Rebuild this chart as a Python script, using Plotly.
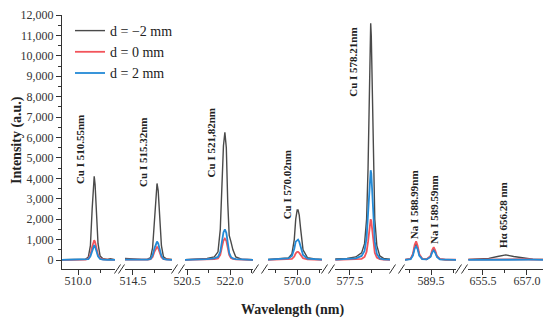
import plotly.graph_objects as go

# ---------------- data ----------------
series_names = ["d = \u22122 mm", "d = 0 mm", "d = 2 mm"]

# Panel 1 : Cu I 510.55 nm
wl_510 = [509.45, 509.8, 510.1, 510.25, 510.35, 510.42, 510.48, 510.52, 510.55, 510.58, 510.62, 510.68, 510.75, 510.85, 511.0, 511.1, 511.26]
i510_m2 = [10, 15, 20, 40, 150, 700, 2500, 3800, 4100, 3700, 2300, 800, 200, 60, 30, 60, 20]
i510_0 = [10, 10, 15, 20, 60, 250, 650, 900, 970, 880, 600, 250, 80, 30, 20, 15, 10]
i510_2 = [5, 5, 10, 15, 40, 180, 480, 680, 730, 660, 450, 180, 50, 15, 10, 10, 5]

# Panel 2 : Cu I 515.32 nm
wl_515 = [514.23, 514.5, 514.8, 515.0, 515.1, 515.17, 515.23, 515.28, 515.32, 515.36, 515.41, 515.47, 515.54, 515.65, 515.83]
i515_m2 = [80, 50, 30, 40, 120, 600, 2000, 3300, 3750, 3400, 2200, 700, 150, 50, 30]
i515_0 = [20, 10, 10, 15, 40, 150, 400, 580, 640, 580, 380, 140, 40, 15, 10]
i515_2 = [20, 10, 10, 15, 50, 220, 560, 820, 900, 820, 540, 200, 50, 15, 10]

# Panel 3 : Cu I 521.82 nm
wl_521 = [520.43, 520.8, 521.2, 521.45, 521.58, 521.66, 521.72, 521.77, 521.82, 521.87, 521.92, 521.97, 522.03, 522.1, 522.2, 522.4, 522.8]
i521_m2 = [10, 30, 80, 150, 400, 1500, 3800, 5600, 6250, 5500, 2800, 1200, 900, 500, 150, 40, 10]
i521_0 = [10, 15, 20, 40, 80, 250, 650, 950, 1050, 940, 600, 250, 100, 50, 30, 15, 10]
i521_2 = [10, 20, 40, 80, 150, 400, 950, 1350, 1500, 1330, 850, 350, 150, 80, 40, 20, 10]

# Panel 4 : Cu I 570.02 nm
wl_570 = [569.0, 569.4, 569.7, 569.82, 569.9, 569.95, 570.0, 570.03, 570.07, 570.12, 570.2, 570.35, 570.6, 570.85]
i570_m2 = [30, 50, 100, 300, 1000, 2000, 2450, 2450, 2200, 1500, 500, 120, 50, 30]
i570_0 = [10, 20, 30, 60, 170, 330, 400, 400, 350, 230, 90, 30, 15, 10]
i570_2 = [20, 40, 80, 200, 550, 900, 1000, 1000, 900, 600, 250, 70, 30, 20]

# Panel 5 : Cu I 578.21 nm
wl_578 = [577.0, 577.4, 577.7, 577.9, 578.0, 578.07, 578.12, 578.16, 578.19, 578.21, 578.23, 578.26, 578.3, 578.35, 578.42, 578.52, 578.65, 578.87]
i578_m2 = [50, 80, 150, 350, 800, 2000, 4500, 8500, 11000, 11600, 11000, 8500, 4500, 2000, 700, 200, 80, 40]
i578_0 = [10, 20, 30, 60, 150, 400, 900, 1550, 1900, 2000, 1900, 1500, 850, 350, 120, 40, 20, 10]
i578_2 = [20, 40, 80, 200, 450, 1100, 2300, 3700, 4300, 4400, 4250, 3500, 2100, 900, 300, 80, 30, 20]

# Panel 6 : Na I 588.99 / 589.59 nm
wl_589 = [588.61, 588.8, 588.88, 588.94, 588.99, 589.04, 589.1, 589.2, 589.35, 589.48, 589.54, 589.59, 589.64, 589.7, 589.8, 590.0, 590.35]
i589_m2 = [15, 50, 260, 650, 800, 620, 240, 50, 35, 170, 430, 540, 420, 170, 40, 15, 10]
i589_0 = [20, 60, 300, 750, 920, 700, 280, 60, 40, 200, 500, 630, 480, 200, 50, 20, 15]
i589_2 = [10, 40, 220, 560, 660, 530, 200, 40, 30, 150, 380, 470, 360, 150, 35, 15, 10]

# Panel 7 : H alpha 656.28 nm
wl_656 = [655.0, 655.4, 655.7, 656.0, 656.28, 656.55, 656.9, 657.2, 657.55]
i656_m2 = [30, 40, 80, 170, 250, 170, 80, 40, 30]
i656_0 = [20, 25, 40, 55, 60, 55, 40, 25, 20]
i656_2 = [10, 15, 25, 35, 40, 35, 25, 15, 10]

peak_labels = ["Cu I 510.55nm", "Cu I 515.32nm", "Cu I 521,82nm", "Cu I 570.02nm",
               "Cu I 578.21nm", "Na I 588.99nm", "Na I 589.59nm", "H\u03b1 656.28 nm"]

panels = [
    (wl_510, [i510_m2, i510_0, i510_2]),
    (wl_515, [i515_m2, i515_0, i515_2]),
    (wl_521, [i521_m2, i521_0, i521_2]),
    (wl_570, [i570_m2, i570_0, i570_2]),
    (wl_578, [i578_m2, i578_0, i578_2]),
    (wl_589, [i589_m2, i589_0, i589_2]),
    (wl_656, [i656_m2, i656_0, i656_2]),
]

# ---------------- layout / styling ----------------
W, H = 550, 323
ML, MR, MT, MB = 62, 7, 15, 54
PW = W - ML - MR
PH = H - MT - MB
BOTTOM = H - MB

colors = ["#4a4a4a", "#f2545b", "#238ad6"]
widths = [1.4, 1.8, 1.8]
SERIF = "Liberation Serif"

x_ranges = [(509.45, 511.26), (514.23, 515.83), (520.43, 522.8), (569.0, 570.85),
            (576.99, 578.87), (588.61, 590.35), (654.99, 657.55)]
panel_px = [(62, 115), (125, 172), (185, 253), (268, 322), (335, 390), (405, 456), (468, 543)]

# label positions (panel index, x in data units, y in data units)
label_pos = [(0, 510.07, 5390), (1, 514.84, 5290), (2, 521.35, 5730), (3, 569.66, 3670),
             (4, 577.6, 9700), (5, 588.92, 2690), (5, 589.6, 2450), (6, 656.18, 2200)]

fig = go.Figure()

def ax_id(i):
    return "x" if i == 0 else f"x{i + 1}"

for i, (wl, ys) in enumerate(panels):
    for k, (name, yv) in enumerate(zip(series_names, ys)):
        fig.add_trace(go.Scatter(
            x=wl, y=yv, mode="lines", name=name,
            line=dict(color=colors[k], width=widths[k]),
            xaxis=ax_id(i), yaxis="y",
            legendgroup=name, showlegend=(i == 0),
        ))

layout = dict(
    width=W, height=H,
    margin=dict(l=ML, r=MR, t=MT, b=MB),
    paper_bgcolor="white", plot_bgcolor="white",
    showlegend=True,
    legend=dict(x=(70 - ML) / PW, y=1.0, xanchor="left", yanchor="top",
                bgcolor="rgba(0,0,0,0)", font=dict(family=SERIF, size=14, color="#222"),
                tracegroupgap=0),
    yaxis=dict(range=[-440, 12000], dtick=1000, tickformat=",",
               showline=True, linecolor="#333", linewidth=1,
               ticks="outside", ticklen=5, tickcolor="#333",
               minor=dict(dtick=500, ticks="outside", ticklen=3, tickcolor="#333"),
               showgrid=False, zeroline=False,
               tickfont=dict(family=SERIF, size=12, color="#333")),
)

for i, (rng, (s, e)) in enumerate(zip(x_ranges, panel_px)):
    key = "xaxis" if i == 0 else f"xaxis{i + 1}"
    layout[key] = dict(
        domain=[(s - ML) / PW, (e - ML) / PW], range=list(rng), anchor="y",
        showline=True, linecolor="#333", linewidth=1,
        ticks="outside", ticklen=5, tickcolor="#333",
        tick0=0, dtick=1.5, tickformat=".1f",
        minor=dict(tick0=0, dtick=0.75, ticks="outside", ticklen=3, tickcolor="#333"),
        showgrid=False, zeroline=False,
        ticklabelstandoff=-4,
        tickfont=dict(family=SERIF, size=12, color="#333"),
    )

fig.update_layout(**layout)

# axis break marks
shapes = []
for k in range(len(panel_px) - 1):
    e = panel_px[k][1]
    s = panel_px[k + 1][0]
    for cx in (e + 2.5, s - 3.5):
        shapes.append(dict(type="line", xref="paper", yref="paper",
                           x0=(cx - 3 - ML) / PW, y0=-4.5 / PH,
                           x1=(cx + 3 - ML) / PW, y1=4.5 / PH,
                           line=dict(color="#333", width=1)))
fig.update_layout(shapes=shapes)

annotations = []
for text, (pi, lx, ly) in zip(peak_labels, label_pos):
    annotations.append(dict(
        text=f"<b>{text}</b>", x=lx, y=ly, xref=ax_id(pi), yref="y",
        xanchor="center", yanchor="middle",
        textangle=-90, showarrow=False,
        font=dict(family=SERIF, size=11, color="#222")))
annotations.append(dict(
    text="<b>Wavelength (nm)</b>", x=(292 - ML) / PW, y=-(310 - BOTTOM) / PH,
    xref="paper", yref="paper", showarrow=False, xanchor="center", yanchor="middle",
    font=dict(family=SERIF, size=14, color="#222")))
annotations.append(dict(
    text="<b>Intensity (a.u.)</b>", x=(17 - ML) / PW, y=(BOTTOM - 140) / PH,
    xref="paper", yref="paper", showarrow=False, textangle=-90,
    xanchor="center", yanchor="middle",
    font=dict(family=SERIF, size=14, color="#222")))
fig.update_layout(annotations=annotations)

fig.write_html("out.html", config={"displayModeBar": False},
               post_script="document.body.style.margin='0';document.body.style.overflow='hidden';")
